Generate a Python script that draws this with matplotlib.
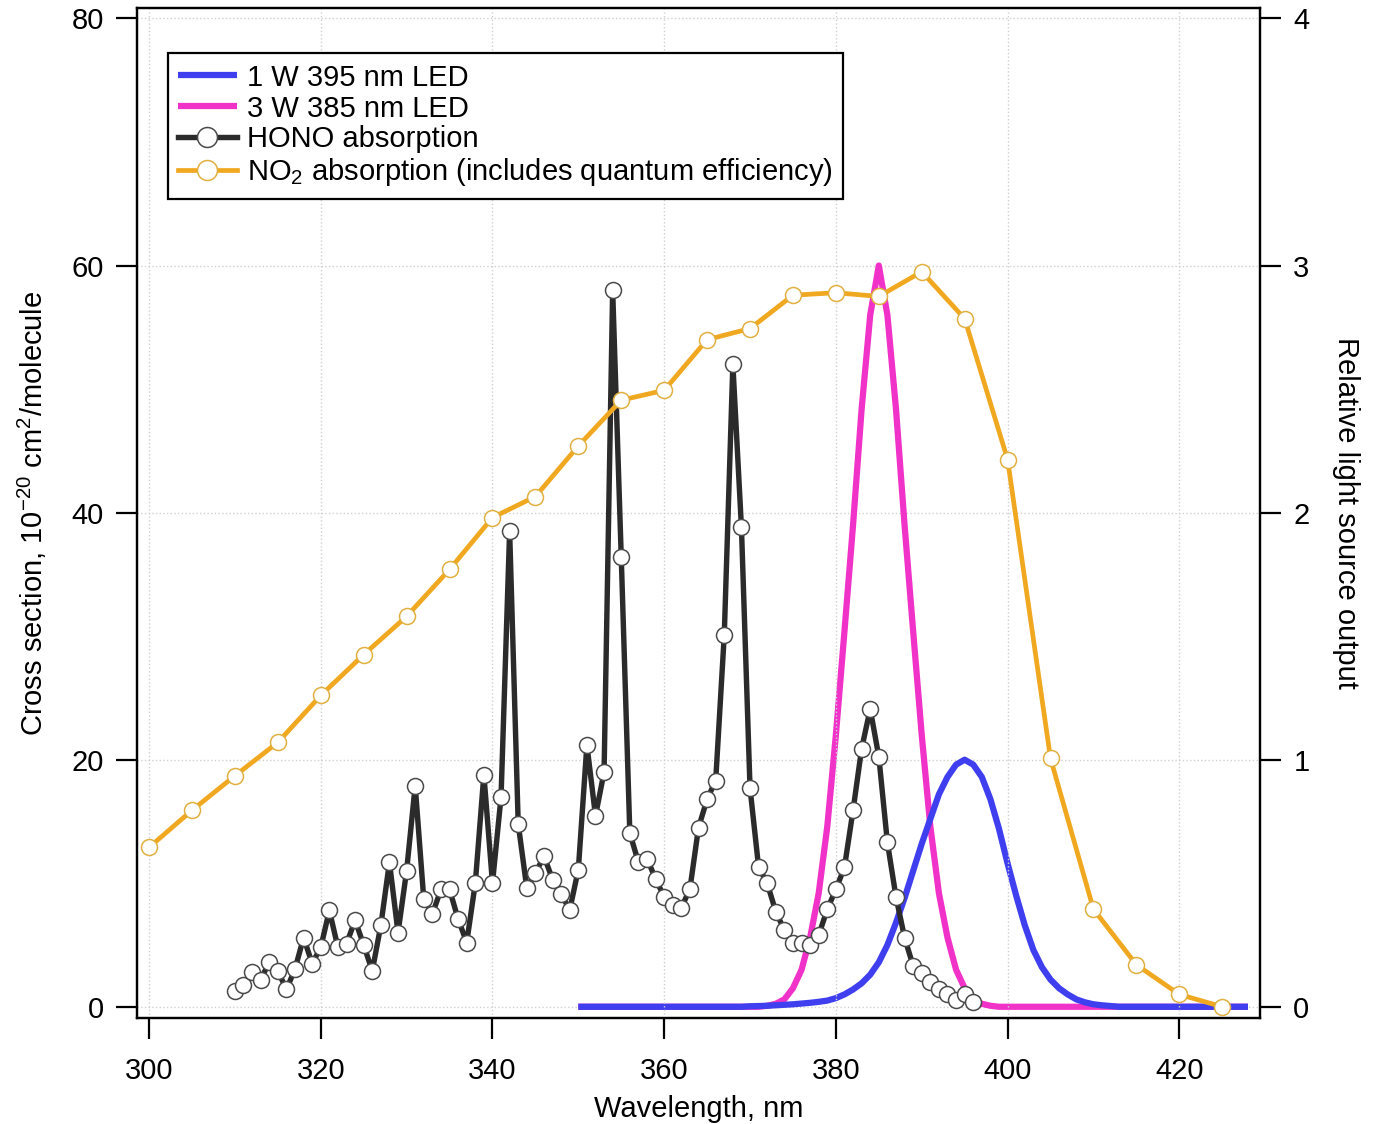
import numpy as np
import matplotlib
matplotlib.use('Agg')
import matplotlib.pyplot as plt

plt.rcParams['font.family'] = ['Liberation Sans', 'DejaVu Sans']
plt.rcParams['mathtext.fontset'] = 'custom'
plt.rcParams['mathtext.rm'] = 'Liberation Sans'
plt.rcParams['mathtext.it'] = 'Liberation Sans:italic'
plt.rcParams['mathtext.bf'] = 'Liberation Sans:bold'

# HONO absorption cross section, 1 nm steps (10^-20 cm2/molecule)
hono_nm = np.arange(310, 397)
hono_xs = [1.3, 1.8, 2.8, 2.2, 3.6, 2.9, 1.4, 3.05, 5.6, 3.5,
           4.8, 7.8, 4.8, 5.1, 7.0, 5.0, 2.9, 6.6, 11.7, 6.0,
           11.0, 17.9, 8.7, 7.5, 9.5, 9.5, 7.1, 5.2, 10.0, 18.8,
           10.0, 17.0, 38.5, 14.8, 9.6, 10.8, 12.2, 10.3, 9.1, 7.85,
           11.1, 21.2, 15.45, 19.0, 58.0, 36.4, 14.05, 11.7, 12.0, 10.35,
           8.9, 8.25, 8.0, 9.55, 14.5, 16.8, 18.3, 30.1, 52.0, 38.8,
           17.7, 11.3, 10.0, 7.7, 6.2, 5.2, 5.2, 5.0, 5.8, 7.9,
           9.5, 11.3, 15.9, 20.9, 24.1, 20.25, 13.3, 8.9, 5.6, 3.3,
           2.7, 2.0, 1.4, 1.0, 0.57, 1.0, 0.35]

# NO2 absorption incl. quantum efficiency, 5 nm steps
no2_nm = np.arange(300, 430, 5)
no2_xs = [12.9, 15.9, 18.7, 21.4, 25.2, 28.5, 31.6, 35.4, 39.6, 41.3,
          45.4, 49.1, 49.9, 54.0, 54.9, 57.6, 57.8, 57.5, 59.5, 55.7,
          44.3, 20.1, 7.9, 3.4, 1.0, 0.0]

# LED emission spectra (relative output), 1 nm steps
led_nm = np.arange(350, 429)
led395 = [0.0] * 20 + [
    0.002, 0.003, 0.004, 0.006, 0.008, 0.01, 0.013, 0.016, 0.02, 0.025,
    0.035, 0.05, 0.07, 0.095, 0.13, 0.18, 0.25, 0.34, 0.44, 0.55,
    0.66, 0.76, 0.86, 0.93, 0.98, 1.0, 0.98, 0.93, 0.84, 0.72,
    0.58, 0.45, 0.33, 0.23, 0.16, 0.11, 0.075, 0.05, 0.03, 0.018,
    0.01, 0.006, 0.003] + [0.0] * 16
led385 = [0.0] * 22 + [
    0.004, 0.012, 0.03, 0.075, 0.15, 0.28, 0.46, 0.73, 1.10, 1.52,
    1.95, 2.42, 2.80, 3.00, 2.80, 2.42, 1.95, 1.52, 1.10, 0.73,
    0.46, 0.28, 0.15, 0.075, 0.03, 0.012, 0.004] + [0.0] * 30

c_blue = '#3f3ff0'
c_mag = '#f032c8'
c_hono = '#2b2b2b'
c_no2 = '#f0a820'

fig = plt.figure(figsize=(13.73, 11.24), dpi=100)
ax = fig.add_axes([0.0998, 0.0943, 0.8179, 0.8986])
ax2 = ax.twinx()
ax.set_zorder(ax2.get_zorder() + 1)
ax.patch.set_visible(False)

# blue sits on top of magenta in the original
l2, = ax2.plot(led_nm, led385, color=c_mag, lw=4.5, solid_capstyle='butt', zorder=2)
l1, = ax2.plot(led_nm, led395, color=c_blue, lw=4.5, solid_capstyle='butt', zorder=3)

l3, = ax.plot(hono_nm, hono_xs, color=c_hono, lw=3.9, marker='o', ms=11.5,
              mfc='white', mec='#4a4a4a', mew=1.1)
l4, = ax.plot(no2_nm, no2_xs, color=c_no2, lw=3.4, marker='o', ms=11.5,
              mfc='white', mec='#e0b040', mew=1.1)

ax.set_xlim(298.6, 429.4)
ax.set_ylim(-0.91, 80.85)
ax2.set_ylim(-0.91 / 20, 80.85 / 20)
ax.set_xticks([300, 320, 340, 360, 380, 400, 420])
ax.set_yticks([0, 20, 40, 60, 80])
ax2.set_yticks([0, 1, 2, 3, 4])

# horizontal grid under the LEDs, vertical grid from the main axes
ax2.grid(True, axis='y', color='#d0d0d0', ls=':', lw=1.0)
ax2.set_axisbelow(True)
ax.grid(True, axis='x', color='#d0d0d0', ls=':', lw=1.0)
ax.set_axisbelow(True)

for a in (ax, ax2):
    for s in a.spines.values():
        s.set_linewidth(1.6)
    a.tick_params(direction='out', length=15, width=1.6, labelsize=21, pad=9)
ax.tick_params(axis='x', pad=13)

ax.set_xlabel('Wavelength, nm', fontsize=21, labelpad=7)
ax.set_ylabel('Cross section, 10$^{-20}$ cm$^{2}$/molecule', fontsize=21, labelpad=16)
ax2.set_ylabel('Relative light source output', fontsize=21, rotation=270, labelpad=36)

leg = ax.legend([l1, l2, l3, l4],
                ['1 W 395 nm LED', '3 W 385 nm LED', 'HONO absorption',
                 'NO$_2$ absorption (includes quantum efficiency)'],
                loc='upper left', bbox_to_anchor=(0.0276, 0.955), borderaxespad=0,
                fontsize=21, frameon=True, fancybox=False, edgecolor='black',
                framealpha=1, handlelength=2.0, handletextpad=0.35,
                labelspacing=0.1, borderpad=0.35, markerscale=1.25)
leg.get_frame().set_linewidth(1.6)

fig.savefig('out.png', dpi=100)
